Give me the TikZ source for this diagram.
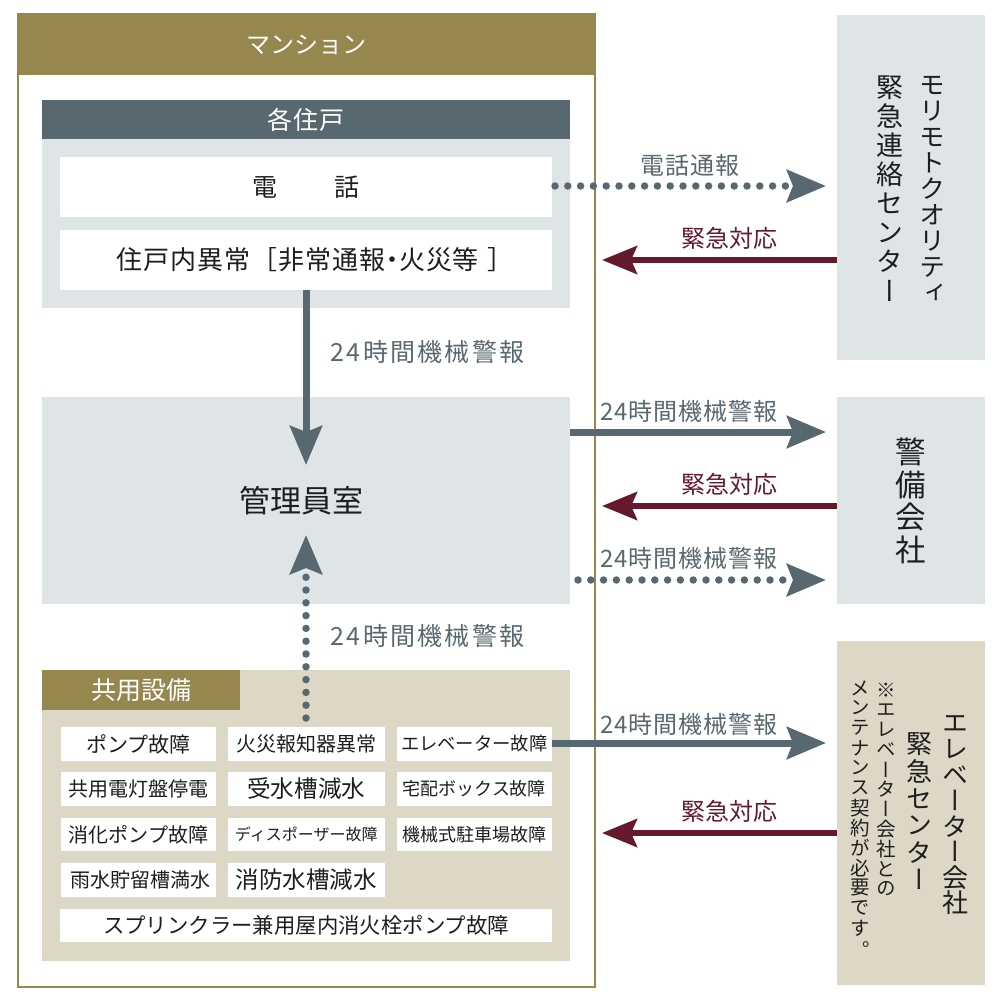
\documentclass[tikz,border=0pt]{standalone}
\usepackage{fontspec}
\usetikzlibrary{arrows.meta}
\setmainfont{Noto Sans CJK JP}
\newfontfamily\vertjp[RawFeature=+vert]{Noto Sans CJK JP}
\definecolor{gold}{HTML}{96874F}
\definecolor{slate}{HTML}{586870}
\definecolor{pale}{HTML}{DFE4E7}
\definecolor{tan}{HTML}{DCD8C5}
\definecolor{maroon}{HTML}{651A2C}
\definecolor{ink}{HTML}{1E1E1E}
\makeatletter
% #1 font size, #2 pitch, #3 characters
\newcommand\vchars[3]{\vbox{\offinterlineskip\vertjp\fontsize{#1}{#1}\selectfont
  \@tfor\vc@c:=#3\do{\vbox to #2pt{\vss\hbox to #2pt{\hss\vc@c\hss}\vss}}}}
\makeatother
\newcommand\fs[1]{\fontsize{#1}{#1}\selectfont}
\tikzset{
  panel/.style={rectangle,inner sep=0pt,outer sep=0pt,draw=none},
  whitebox/.style={panel,fill=white,text=ink,minimum height=33.5pt},
  col1/.style={whitebox,minimum width=155.5pt},
  col2/.style={whitebox,minimum width=156.5pt},
  col3/.style={whitebox,minimum width=155.5pt},
  vlabel/.style={inner sep=0pt,outer sep=0pt,anchor=north,text=ink},
  linklabel/.style={inner sep=0pt,text=slate,font=\fs{24}\addfontfeature{LetterSpace=4}},
  widelabel/.style={inner sep=0pt,text=slate,font=\fs{25}\addfontfeature{LetterSpace=9}},
  redlabel/.style={inner sep=0pt,text=maroon,font=\fs{24}},
  greyarrow/.style={draw=slate,line width=7pt,-{Stealth[length=39pt,width=32pt,inset=6pt]}},
  dotarrow/.style={draw=slate,line width=7.5pt,line cap=round,dash pattern=on 0pt off 12.8pt,-{Stealth[length=39pt,width=32pt,inset=6pt]}},
  redarrow/.style={draw=maroon,line width=6pt,-{Stealth[length=35pt,width=28pt,inset=6pt]}},
}
\begin{document}
\begin{tikzpicture}[x=1pt,y=-1pt]
\useasboundingbox (0,0) rectangle (1000,1000);
% mansion frame
\node[panel,draw=gold,line width=2pt,minimum width=577pt,minimum height=972pt] (mansion) at (306,500.5) {};
\node[panel,fill=gold,minimum width=578pt,minimum height=61pt,text=white,font=\fs{24}] (mansionhead) at (306,44.5) {マンション};
% units
\node[panel,fill=pale,minimum width=528pt,minimum height=169pt] (unitbody) at (306,223.5) {};
\node[panel,fill=slate,minimum width=528pt,minimum height=39pt,text=white,font=\fs{25}\addfontfeature{LetterSpace=3}] (unithead) at (306,119.5) {各住戸};
\node[panel,fill=white,minimum width=492pt,minimum height=60pt,text=ink,font=\fs{25}] (tel) at (306,187) {\raisebox{-1.5pt}{電\hspace{57pt}話}};
\node[panel,fill=white,minimum width=492pt,minimum height=60pt,text=ink,font=\fs{26}\addfontfeature{LetterSpace=3.5}] (alarm) at (306,260) {\hspace*{18pt}\raisebox{-1pt}{住戸内異常［非常通報\makebox[14pt]{・}火災等\hspace{8pt}］}};
% manager room
\node[panel,fill=pale,minimum width=528pt,minimum height=207pt,text=ink,font=\fs{31}] (room) at (306,500.5) {\raisebox{1.5pt}{管理員室}\kern10pt};
% shared equipment
\node[panel,fill=tan,minimum width=528pt,minimum height=291pt] (shared) at (306,815.5) {};
\node[panel,fill=gold,minimum width=198pt,minimum height=40pt,text=white,font=\fs{25}] (sharedhead) at (141,690) {共用設備};
\node[col1,font=\fs{21}] (b11) at (138.5,744) {ポンプ故障};
\node[col2,font=\fs{20}] (b12) at (306.25,744) {火災報知器異常};
\node[col3,font=\fs{18.3}] (b13) at (474.25,744) {エレベーター故障};
\node[col1,font=\fs{20}] (b21) at (138.5,789) {共用電灯盤停電};
\node[col2,font=\fs{23.6}] (b22) at (306.25,789) {受水槽減水};
\node[col3,font=\fs{18}] (b23) at (474.25,789) {宅配ボックス故障};
\node[col1,font=\fs{20}] (b31) at (138.5,834.5) {消化ポンプ故障};
\node[col2,font=\fs{16}] (b32) at (306.25,834.5) {ディスポーザー故障};
\node[col3,font=\fs{18}] (b33) at (474.25,834.5) {機械式駐車場故障};
\node[col1,font=\fs{20}] (b41) at (138.5,880) {\hspace*{4pt}雨水貯留槽満水};
\node[col2,font=\fs{23.5}] (b42) at (306.25,880) {消防水槽減水};
\node[whitebox,minimum width=492pt,font=\fs{21.4}] (b51) at (306,925.5) {スプリンクラー兼用屋内消火栓ポンプ故障};
% right boxes
\node[panel,fill=pale,minimum width=148pt,minimum height=345pt] (morimoto) at (911,187.5) {};
\node[panel,fill=pale,minimum width=148pt,minimum height=207pt] (guard) at (911,500.5) {};
\node[panel,fill=tan,minimum width=148pt,minimum height=344pt] (elev) at (911,813) {};
% vertical texts
\node[vlabel] (v1) at (932,72) {\vchars{26}{26}{モリモトクオリティ}};
\node[vlabel] (v2) at (890,73) {\vchars{27}{29}{緊急連絡センター}};
\node[vlabel] (v3) at (911,436) {\vchars{30.5}{32.5}{警備会社}};
\node[vlabel] (v4) at (955,711) {\vchars{26}{25.6}{エレベーター会社}};
\node[vlabel] (v5) at (919,731) {\vchars{26}{27}{緊急センター}};
\node[vlabel] (v6) at (886,680) {\vchars{19.5}{19.9}{※エレベーター会社との}};
\node[vlabel] (v7) at (860,678) {\vchars{19.5}{20}{メンテナンス契約が必要です{\smash{\raisebox{-9pt}{。}}}}};
% free arrow ends
\coordinate (t1) at (826,186);
\coordinate (t2) at (602,260);
\coordinate (t3) at (826,432);
\coordinate (t4) at (602,506);
\coordinate (s1) at (555,186);
\coordinate (s5) at (578,580);
\coordinate (t5) at (826,580);
\coordinate (t6) at (826,743);
\coordinate (t7) at (602,833);
\coordinate (s8) at (306,718);
\coordinate (t8) at (306,535);
\coordinate (t9) at (306,465);
% connectors
\draw[dotarrow] (s1) -- (t1);
\draw[redarrow] (morimoto.west |- t2) -- (t2);
\draw[greyarrow] (alarm.south) -- (t9);
\draw[greyarrow] (room.east |- t3) -- (t3);
\draw[redarrow] (guard.west |- t4) -- (t4);
\draw[dotarrow] (s5) -- (t5);
\draw[dotarrow] (s8) -- (t8);
\draw[greyarrow] (b13.east |- t6) -- (t6);
\draw[redarrow] (elev.west |- t7) -- (t7);
% labels
\node[linklabel] (l1) at (690,165) {電話通報};
\node[redlabel] (l2) at (729,238) {緊急対応};
\node[widelabel] (l3) at (427.5,352) {24時間機械警報};
\node[linklabel] (l4) at (689,411) {24時間機械警報};
\node[redlabel] (l5) at (729,484) {緊急対応};
\node[linklabel] (l6) at (689,558) {24時間機械警報};
\node[widelabel] (l7) at (427.5,636) {24時間機械警報};
\node[linklabel] (l8) at (689,724) {24時間機械警報};
\node[redlabel] (l9) at (729,811) {緊急対応};
\end{tikzpicture}
\end{document}
